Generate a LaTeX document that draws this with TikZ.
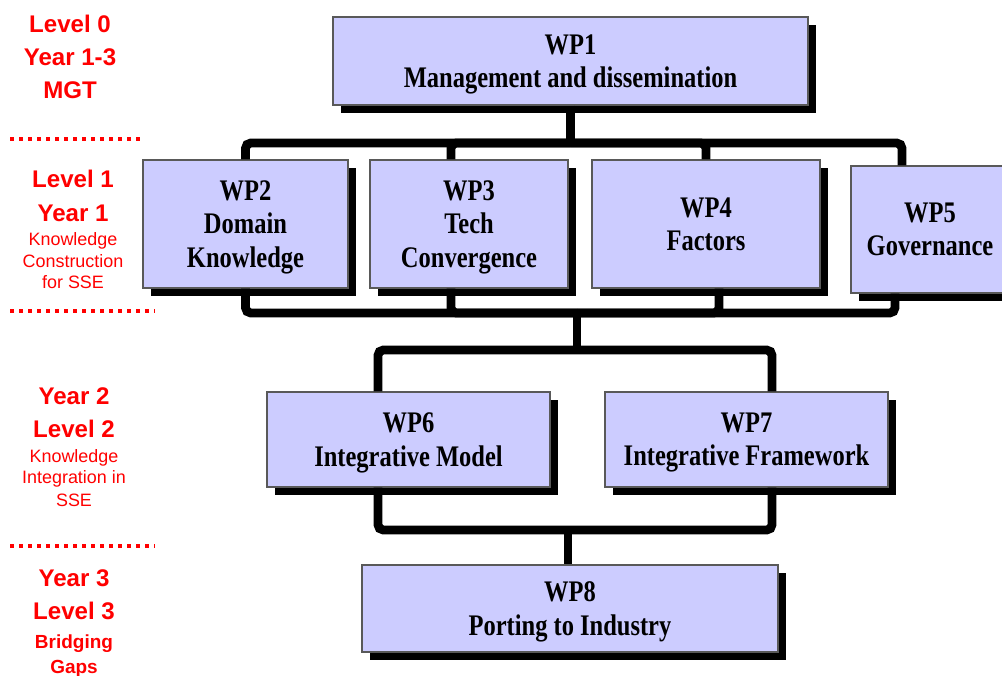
\documentclass[tikz,border=0pt]{standalone}
\usepackage{fontspec}
\usetikzlibrary{shadows}
\newfontfamily\boxfont{Liberation Serif}[FakeStretch=0.82]
\newfontfamily\sidefont{Liberation Sans}
\definecolor{wpblue}{HTML}{CCCCFF}
\definecolor{lvred}{HTML}{FF0000}

\begin{document}
\begin{tikzpicture}[
  wp/.style={draw=black!65, line width=.6pt, fill=wpblue, inner sep=0pt, align=center,
    text depth=0pt, font=\boxfont\bfseries\fontsize{17}{19}\selectfont,
    drop shadow={opacity=1, fill=black, shadow xshift=.16cm, shadow yshift=-.16cm}},
  bus/.style={line width=5pt, rounded corners=3pt},
  big/.style={text=lvred, anchor=base, inner sep=0pt, font=\sidefont\bfseries\fontsize{13.7}{16}\selectfont},
  small/.style={text=lvred, anchor=base, inner sep=0pt, font=\sidefont\fontsize{10.2}{12}\selectfont},
  smallbf/.style={small, font=\sidefont\bfseries\fontsize{10.8}{12}\selectfont},
  sep/.style={lvred, line width=.08cm, dash pattern=on .08cm off .1cm}]
\useasboundingbox (0,0) rectangle (20.04,-13.5);

% work packages
\node[wp, minimum width=9.5cm, minimum height=1.76cm] (wp1) at (11.41,-1.22) {WP1\\Management and dissemination};
\node[wp, minimum width=4.1cm, minimum height=2.56cm] (wp2) at (4.91,-4.48) {WP2\\Domain\\Knowledge};
\node[wp, minimum width=3.96cm, minimum height=2.56cm] (wp3) at (9.38,-4.48) {WP3\\Tech\\Convergence};
\node[wp, minimum width=4.56cm, minimum height=2.56cm] (wp4) at (14.12,-4.48) {WP4\\Factors};
\node[wp, minimum width=3.16cm, minimum height=2.54cm] (wp5) at (18.6,-4.59) {WP5\\Governance};
\node[wp, minimum width=5.66cm, minimum height=1.9cm] (wp6) at (8.17,-8.79) {WP6\\Integrative Model};
\node[wp, minimum width=5.66cm, minimum height=1.9cm] (wp7) at (14.93,-8.79) {WP7\\Integrative Framework};
\node[wp, minimum width=8.32cm, minimum height=1.74cm] (wp8) at (11.4,-12.17) {WP8\\Porting to Industry};

% bus lines
\coordinate (t1) at (11.41,-2.86);
\coordinate (b1) at (11.54,-6.26);
\coordinate (t2) at (11.54,-7.0);
\coordinate (b2) at (11.36,-10.6);
\draw[bus] (wp1) -- (t1);
\draw[bus] (wp2.north) |- (t1) -| ([xshift=-.56cm]wp5.north);
\draw[bus] ([xshift=-.36cm]wp3.north) |- (t1);
\draw[bus] (wp4.north) |- (t1);
\draw[bus] (wp2.south) |- (b1) -| ([xshift=-.7cm]wp5.south);
\draw[bus] ([xshift=-.36cm]wp3.south) |- (b1);
\draw[bus] ([xshift=.26cm]wp4.south) |- (b1);
\draw[bus] (b1) -- (t2);
\draw[bus] ([xshift=-.61cm]wp6.north) |- (t2) -| ([xshift=.51cm]wp7.north);
\draw[bus] ([xshift=-.61cm]wp6.south) |- (b2) -| ([xshift=.51cm]wp7.south);
\draw[bus] (b2) -- (b2 |- wp8.north);

% levels
\node[big] (l0a) at (1.4,-0.64) {Level 0};
\node[big] (l0b) at (1.4,-1.30) {Year 1-3};
\node[big] (l0c) at (1.4,-1.96) {MGT};
\draw[sep] (0.2,-2.78) -- (2.9,-2.78);
\node[big] (l1a) at (1.46,-3.74) {Level 1};
\node[big] (l1b) at (1.46,-4.42) {Year 1};
\node[small] (l1c) at (1.46,-4.9) {Knowledge};
\node[small] (l1d) at (1.46,-5.34) {Construction};
\node[small] (l1e) at (1.46,-5.76) {for SSE};
\draw[sep] (0.2,-6.22) -- (3.1,-6.22);
\node[big] (l2a) at (1.48,-8.08) {Year 2};
\node[big] (l2b) at (1.48,-8.74) {Level 2};
\node[small] (l2c) at (1.48,-9.24) {Knowledge};
\node[small] (l2d) at (1.48,-9.66) {Integration in};
\node[small] (l2e) at (1.48,-10.12) {SSE};
\draw[sep] (0.2,-10.92) -- (3.1,-10.92);
\node[big] (l3a) at (1.48,-11.72) {Year 3};
\node[big] (l3b) at (1.48,-12.38) {Level 3};
\node[smallbf] (l3c) at (1.48,-12.96) {Bridging};
\node[smallbf] (l3d) at (1.48,-13.46) {Gaps};
\end{tikzpicture}
\end{document}
